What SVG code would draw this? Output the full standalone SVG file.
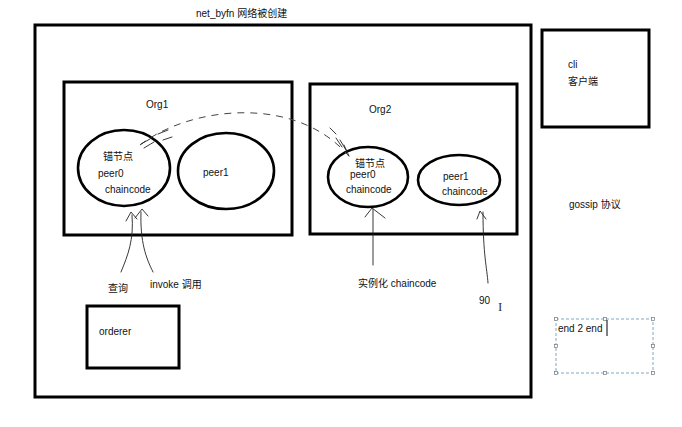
<svg xmlns="http://www.w3.org/2000/svg" width="682" height="427" viewBox="0 0 682 427">
<style>
.box{fill:none;stroke:#000;stroke-width:3}
.node{fill:none;stroke:#000;stroke-width:2.6}
.t{font-family:"Liberation Sans","Noto Sans CJK SC",sans-serif;font-size:10px;fill:#111}
.ln{fill:none;stroke:#222;stroke-width:0.9;stroke-linecap:round;stroke-linejoin:round}
.dash{fill:none;stroke:#444;stroke-width:1;stroke-dasharray:7 6}
.sel{fill:none;stroke:#6f9fbf;stroke-width:0.9;stroke-dasharray:3 2}
.h{fill:#fff;stroke:#777;stroke-width:0.7}
</style>
<rect width="682" height="427" fill="#fff"/>
<g id="network">
<rect class="box" x="35" y="25" width="496" height="372"/>
<text class="t" x="196" y="17">net_byfn 网络被创建</text>
</g>
<g id="org1">
<rect class="box" x="64" y="82" width="228" height="153"/>
<text class="t" x="146" y="108">Org1</text>
</g>
<g id="org1-peer0">
<ellipse class="node" cx="124" cy="168" rx="46" ry="38"/>
<text class="t" x="103" y="160">锚节点</text>
<text class="t" x="98" y="177">peer0</text>
<text class="t" x="105" y="193">chaincode</text>
</g>
<g id="org1-peer1">
<ellipse class="node" cx="226" cy="171" rx="48" ry="38"/>
<text class="t" x="203" y="176">peer1</text>
</g>
<g id="org2">
<rect class="box" x="310" y="84" width="207" height="150"/>
<text class="t" x="369" y="113">Org2</text>
</g>
<g id="org2-peer0">
<ellipse class="node" cx="368" cy="177" rx="40" ry="30"/>
<text class="t" x="355" y="167">锚节点</text>
<text class="t" x="350" y="178">peer0</text>
<text class="t" x="346" y="193">chaincode</text>
</g>
<g id="org2-peer1">
<ellipse class="node" cx="459" cy="180" rx="41" ry="25"/>
<text class="t" x="443" y="180">peer1</text>
<text class="t" x="442" y="195">chaincode</text>
</g>
<g id="cli">
<rect class="box" x="542" y="30" width="107" height="97"/>
<text class="t" x="568" y="68">cli</text>
<text class="t" x="568" y="85">客户端</text>
</g>
<g id="orderer">
<rect class="box" x="87" y="306" width="92" height="62"/>
<text class="t" x="99" y="335">orderer</text>
</g>
<g id="labels">
<text class="t" x="108" y="292">查询</text>
<text class="t" x="150" y="288">invoke 调用</text>
<text class="t" x="358" y="287">实例化 chaincode</text>
<text class="t" x="479" y="304">90</text>
<text x="498" y="311" style="font-family:'Liberation Serif',serif;font-size:13px;fill:#333">I</text>
<text class="t" x="569" y="208">gossip 协议</text>
</g>
<g id="end2end">
<rect class="sel" x="556" y="319" width="97" height="54"/>
<g class="h">
<rect x="554.5" y="317.5" width="3" height="3"/><rect x="603.5" y="317.5" width="3" height="3"/><rect x="651.5" y="317.5" width="3" height="3"/>
<rect x="554.5" y="344.5" width="3" height="3"/><rect x="651.5" y="344.5" width="3" height="3"/>
<rect x="554.5" y="371.5" width="3" height="3"/><rect x="603.5" y="371.5" width="3" height="3"/><rect x="651.5" y="371.5" width="3" height="3"/>
</g>
<text class="t" x="558" y="332">end 2 end</text>
<line x1="607" y1="320" x2="607" y2="336" stroke="#000" stroke-width="1"/>
</g>
<g id="connectors">
<path class="ln" d="M121,272 C128,255 134,240 132,215 M126,221 L131,212 L137,219"/>
<path class="ln" d="M153,272 C146,258 140,242 141,212 M135,218 L142,209 L148,216"/>
<path class="ln" d="M373,265 L373,209 M365,217 L372,208 L385,218"/>
<path class="ln" d="M488,283 C487,268 483,255 483,212 M477,219 L480,211 L486,219"/>
<path class="dash" d="M140,145 C190,106 300,93 352,160"/>
<path class="ln" d="M141,144 L150,139 M144,148 L154,142 M158,134 L168,130 M163,140 L172,137 M330,128 L336,134 M336,138 L342,147 M340,140 L346,150 M344,145 L349,156"/>
</g>
</svg>
